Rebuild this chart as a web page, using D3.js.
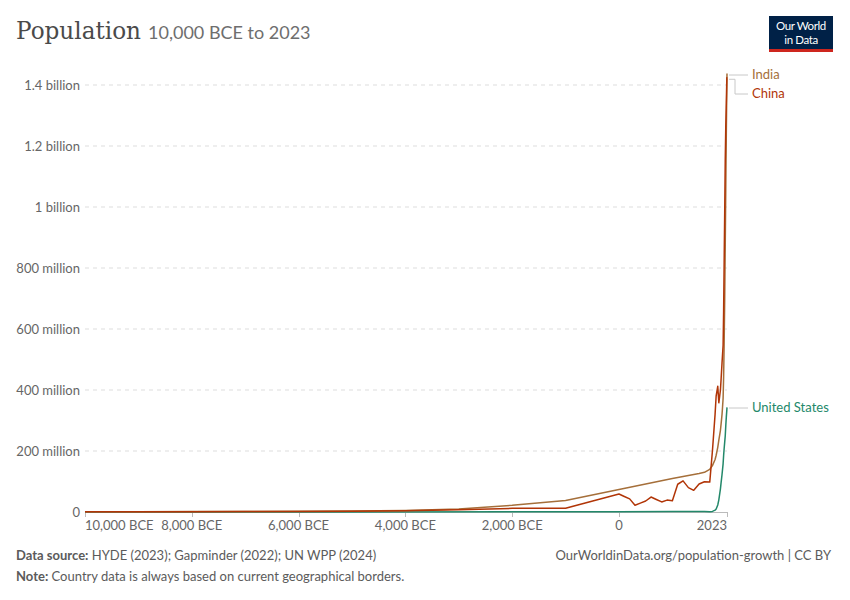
<!DOCTYPE html>
<html>
<head>
<meta charset="utf-8">
<title>Population</title>
<script src="https://cdn.jsdelivr.net/npm/d3@7"></script>
<style>
  body { margin: 0; background: #fff; }
  svg text { font-family: Lato, "Noto Sans", sans-serif; }
</style>
</head>
<body>
<svg id="chart" width="850" height="600"></svg>
<script>
// series, millions of people
var chinaYears = [-10000, -9000, -8000, -7000, -6000, -5000, -4000, -3000, -2000, -1000, 0, 100, 200, 300, 400, 500, 600, 700, 800, 900, 1000, 1100, 1200, 1300, 1400, 1500, 1600, 1700, 1750, 1800, 1820, 1850, 1870, 1900, 1913, 1930, 1950, 1960, 1970, 1980, 1990, 2000, 2010, 2020, 2023];
var chinaPop = [0.5, 0.7, 0.9, 1.3, 1.8, 2.5, 4, 7, 12, 12.5, 59, 51, 43, 22, 29, 36, 49, 41, 33, 39, 37, 91, 102, 80, 71, 92, 99, 98, 200, 321, 381, 412, 358, 400, 437, 489, 546, 660, 820, 982, 1150, 1262, 1340, 1424, 1422];

var indiaYears = [-10000, -9000, -8000, -7000, -6000, -5000, -4000, -3000, -2000, -1000, 0, 1000, 1500, 1600, 1700, 1750, 1800, 1820, 1850, 1870, 1900, 1913, 1930, 1940, 1950, 1960, 1970, 1980, 1990, 2000, 2010, 2020, 2023];
var indiaPop = [0.8, 1, 1.3, 1.7, 2.3, 3.2, 5, 10, 22, 38, 74, 110, 126, 130, 140, 152, 172, 186, 212, 236, 268, 290, 320, 345, 372, 445, 557, 699, 873, 1057, 1241, 1396, 1438];

var usYears = [-10000, -5000, -1000, 0, 1000, 1500, 1600, 1700, 1750, 1800, 1820, 1850, 1870, 1900, 1913, 1930, 1950, 1960, 1970, 1980, 1990, 2000, 2010, 2020, 2023];
var usPop = [0.1, 0.3, 0.6, 0.7, 1.3, 2, 1.5, 1, 2, 6, 10, 23, 40, 76, 97, 123, 158, 186, 209, 229, 249, 282, 311, 335, 343];

var xTicks = [-10000, -8000, -6000, -4000, -2000, 0, 2023];
var yTicks = [0, 200, 400, 600, 800, 1000, 1200, 1400];
var yTickLabels = ["0", "200 million", "400 million", "600 million", "800 million", "1 billion", "1.2 billion", "1.4 billion"];

var series = [
  {name: "United States", years: usYears, pop: usPop, color: "#23886a", labelY: 412},
  {name: "India", years: indiaYears, pop: indiaPop, color: "#a56f3a", labelY: 79},
  {name: "China", years: chinaYears, pop: chinaPop, color: "#b13507", labelY: 98}
];

var svg = d3.select("#chart");
var x = d3.scaleLinear().domain([-10000, 2023]).range([85, 727]);
var y = d3.scaleLinear().domain([0, 1400]).range([512, 85]);

// title
svg.append("text").attr("x", 16).attr("y", 39)
  .style("font-family", "'DejaVu Serif', 'Liberation Serif', serif")
  .attr("font-size", 24).attr("fill", "#4a4a4a")
  .attr("textLength", 125).attr("lengthAdjust", "spacingAndGlyphs")
  .text("Population");
svg.append("text").attr("x", 148).attr("y", 39)
  .attr("font-size", 18).attr("fill", "#6e6e6e")
  .text("10,000 BCE to 2023");

// logo
var logo = svg.append("g");
logo.append("rect").attr("x", 769).attr("y", 16).attr("width", 64).attr("height", 36).attr("fill", "#002147");
logo.append("rect").attr("x", 769).attr("y", 49).attr("width", 64).attr("height", 3).attr("fill", "#ce261e");
logo.append("text").attr("x", 801).attr("y", 30).attr("text-anchor", "middle")
  .attr("font-size", 11.5).attr("fill", "#fff").attr("letter-spacing", -0.4).text("Our World");
logo.append("text").attr("x", 801).attr("y", 43.5).attr("text-anchor", "middle")
  .attr("font-size", 11.5).attr("fill", "#fff").attr("letter-spacing", -0.4).text("in Data");

// gridlines + y labels
svg.append("g").selectAll("line").data(yTicks.filter(function(d) { return d > 0; })).enter()
  .append("line")
  .attr("x1", 85).attr("x2", 727)
  .attr("y1", function(d) { return y(d); }).attr("y2", function(d) { return y(d); })
  .attr("stroke", "#dddddd").attr("stroke-dasharray", "4,4");

svg.append("g").selectAll("text").data(yTicks).enter()
  .append("text")
  .attr("x", 80).attr("y", function(d) { return y(d) + 4.5; })
  .attr("text-anchor", "end").attr("font-size", 13).attr("fill", "#666")
  .text(function(d, i) { return yTickLabels[i]; });

// x axis
svg.append("line").attr("x1", 85).attr("x2", 727).attr("y1", 512.5).attr("y2", 512.5).attr("stroke", "#bbb");
svg.append("g").selectAll("line").data(xTicks).enter()
  .append("line")
  .attr("x1", function(d) { return Math.round(x(d)) + 0.5; }).attr("x2", function(d) { return Math.round(x(d)) + 0.5; })
  .attr("y1", 512).attr("y2", 517).attr("stroke", "#bbb");

function yearLabel(d) {
  return d < 0 ? d3.format(",")(-d) + " BCE" : String(d);
}
svg.append("g").selectAll("text").data(xTicks).enter()
  .append("text")
  .attr("x", function(d) { return x(d); }).attr("y", 530)
  .attr("text-anchor", function(d, i) { return i === 0 ? "start" : (i === xTicks.length - 1 ? "end" : "middle"); })
  .attr("font-size", 13).attr("fill", "#666")
  .text(yearLabel);

// lines
var line = d3.line()
  .x(function(d) { return x(d[0]); })
  .y(function(d) { return y(d[1]); });

series.forEach(function(s) {
  svg.append("path")
    .datum(d3.zip(s.years, s.pop))
    .attr("d", line)
    .attr("fill", "none").attr("stroke", s.color).attr("stroke-width", 1.5)
    .attr("stroke-linejoin", "round");
});

// end labels with connectors
series.forEach(function(s) {
  var last = s.pop[s.pop.length - 1];
  var y0 = y(last);
  var path;
  if (s.name === "China") path = "M729," + (y0 + 1) + "H735V" + (s.labelY - 4) + "H748";
  else path = "M729," + (s.labelY - 4) + "H748";
  svg.append("path").attr("d", path).attr("fill", "none").attr("stroke", "#c8c8c8").attr("stroke-width", 1);
  svg.append("text").attr("x", 752).attr("y", s.labelY)
    .attr("font-size", 13).attr("fill", s.color).text(s.name);
});

// footer
var f1 = svg.append("text").attr("x", 16).attr("y", 560).attr("font-size", 13).attr("fill", "#5b5b5b");
f1.append("tspan").attr("font-weight", "bold").text("Data source:");
f1.append("tspan").text(" HYDE (2023); Gapminder (2022); UN WPP (2024)");
var f2 = svg.append("text").attr("x", 16).attr("y", 581).attr("font-size", 13).attr("fill", "#5b5b5b");
f2.append("tspan").attr("font-weight", "bold").text("Note:");
f2.append("tspan").text(" Country data is always based on current geographical borders.");
svg.append("text").attr("x", 831).attr("y", 560).attr("text-anchor", "end")
  .attr("font-size", 13).attr("fill", "#5b5b5b")
  .text("OurWorldinData.org/population-growth | CC BY");
</script>
</body>
</html>
